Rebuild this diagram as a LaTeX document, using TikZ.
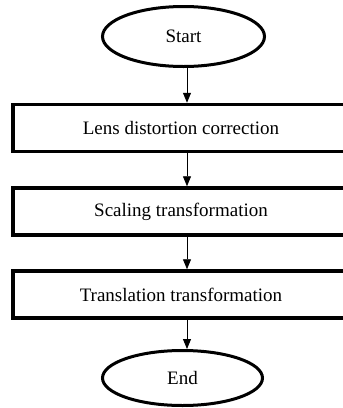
\documentclass[tikz,border=0pt]{standalone}
\usepackage{fontspec}
\setmainfont{Liberation Serif}
\usetikzlibrary{shapes.geometric,arrows.meta}
\begin{document}
\begin{tikzpicture}[x=1pt,y=-1pt,
  stepbox/.style={draw=black,line width=3.5pt,rectangle,minimum width=336pt,minimum height=47pt,inner sep=0pt,font=\fontsize{19}{22}\selectfont},
  term/.style={draw=black,line width=3pt,ellipse,inner sep=0pt,font=\fontsize{19}{22}\selectfont},
  arr/.style={line width=0.9pt,-{Triangle[length=10pt,width=8pt]}}]
\useasboundingbox (0,0) rectangle (343,408);
\clip (0,0) rectangle (343,408);
\node[term,minimum width=162pt,minimum height=60pt] (start) at (183.5,36.5) {Start};
\node[stepbox] (b1) at (181,128) {Lens distortion correction};
\node[stepbox] (b2) at (181,211.5) {Scaling transformation};
\node[stepbox] (b3) at (181,294.5) {Translation transformation};
\node[term,minimum width=160pt,minimum height=55pt] (end) at (182.5,378) {End};
\coordinate (ax) at (187,0);
\draw[arr] (start.south -| ax) -- (b1.north -| ax);
\draw[arr] (b1.south -| ax) -- (b2.north -| ax);
\draw[arr] (b2.south -| ax) -- (b3.north -| ax);
\draw[arr] (b3.south -| ax) -- (end.north -| ax);
\end{tikzpicture}
\end{document}
